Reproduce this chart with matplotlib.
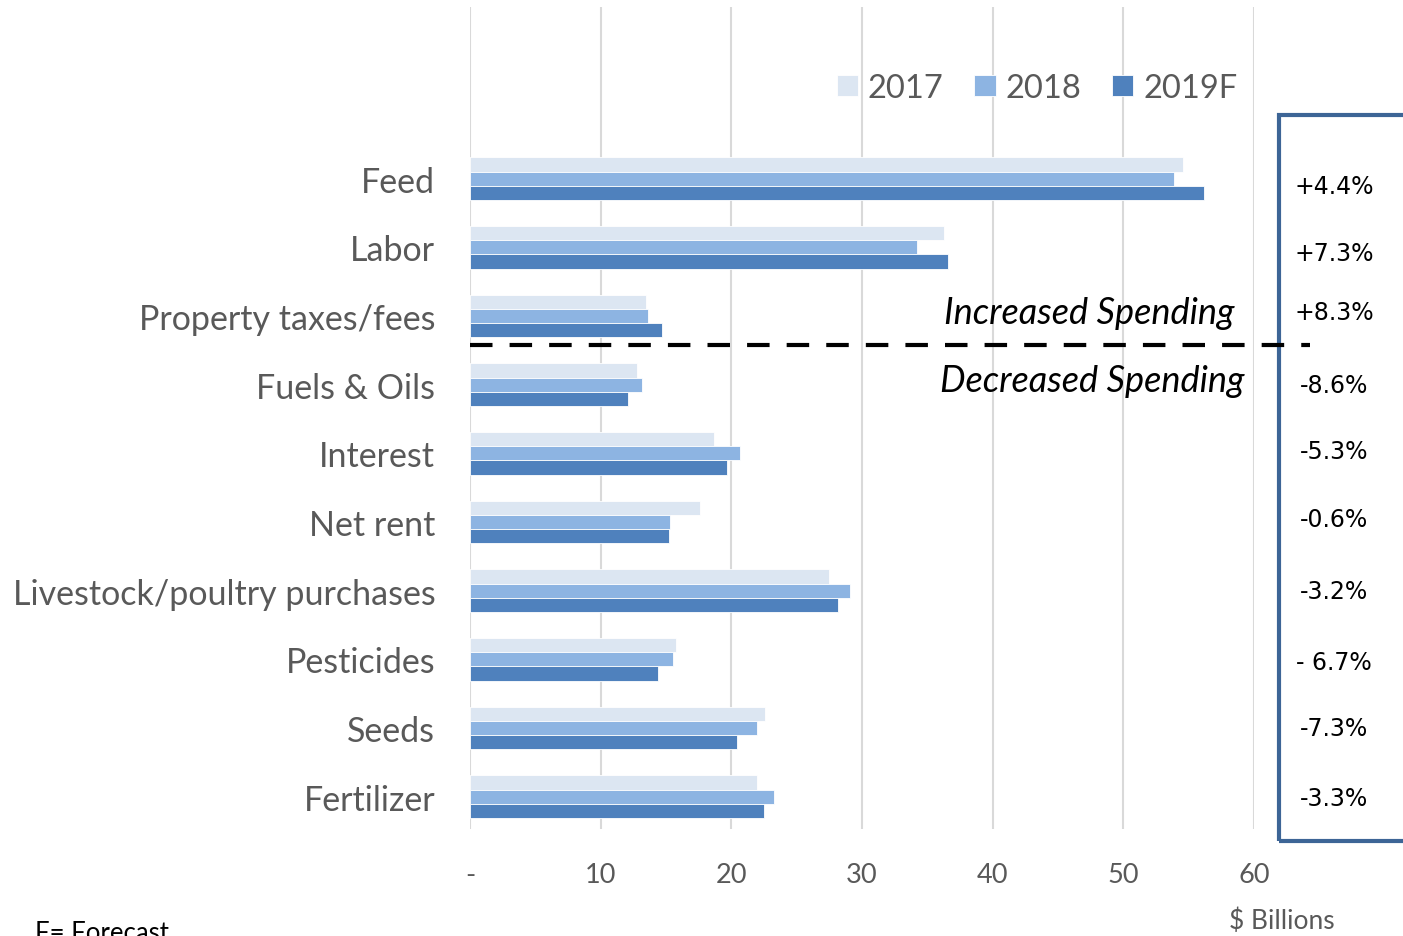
import numpy as np
import matplotlib.pyplot as plt
from matplotlib.patches import Rectangle
from matplotlib.lines import Line2D

# Farm production expenses, $ billions
categories = ["Feed", "Labor", "Property taxes/fees", "Fuels & Oils", "Interest",
              "Net rent", "Livestock/poultry purchases", "Pesticides", "Seeds", "Fertilizer"]
y2017 = [54.6, 36.3, 13.5, 12.8, 18.7, 17.6, 27.5, 15.8, 22.6, 22.0]
y2018 = [53.9, 34.2, 13.6, 13.2, 20.7, 15.3, 29.1, 15.5, 22.0, 23.3]
y2019 = [56.2, 36.6, 14.7, 12.1, 19.7, 15.2, 28.2, 14.4, 20.4, 22.5]
pct_change = ["+4.4%", "+7.3%", "+8.3%", "-8.6%", "-5.3%",
              "-0.6%", "-3.2%", "- 6.7%", "-7.3%", "-3.3%"]
series_names = ["2017", "2018", "2019F"]
colors = ["#dce6f2", "#8db4e2", "#4f81bd"]
xticks = [0, 10, 20, 30, 40, 50, 60]
xticklabels = ["-", "10", "20", "30", "40", "50", "60"]

W, H = 1403, 937
fig = plt.figure(figsize=(W / 100, H / 100), dpi=100)
ax = fig.add_axes([470 / W, 1 - 830 / H, (1254 - 470) / W, (830 - 8) / H])

y = np.arange(len(categories))
h = 0.207
for i, (vals, c, name) in enumerate(zip([y2017, y2018, y2019], colors, series_names)):
    ax.barh(y + (i - 1) * h, vals, height=h, color=c, edgecolor="white",
            linewidth=0.6, label=name, zorder=3)

ax.set_xlim(0, 60)
ax.set_ylim(len(categories) - 1 + 0.47, -2.5)
ax.set_xticks(xticks)
ax.set_xticklabels(xticklabels, fontsize=19.5, color="#595959", family="Lato")
ax.set_yticks(y)
ax.set_yticklabels(categories, fontsize=24.5, color="#595959", family="Lato")
ax.tick_params(length=0, pad=25, axis="y")
ax.tick_params(length=0, pad=24, axis="x")
ax.grid(axis="x", color="#d9d9d9", linewidth=1.5, zorder=0)
for s in ax.spines.values():
    s.set_visible(False)

ax.legend(loc="center", bbox_to_anchor=(1037 / W, 1 - 89 / H), bbox_transform=fig.transFigure,
          ncol=3, frameon=False, prop={"family": "Lato", "size": 23.5},
          handlelength=0.65, handleheight=0.65, handletextpad=0.3, columnspacing=0.95,
          labelcolor="#595959")

# divider between increased and decreased spending
fig.add_artist(Line2D([470 / W, 1310 / W], [1 - 346 / H, 1 - 346 / H], color="black",
                      linewidth=3, linestyle=(0, (5.4, 4.1))))
fig.text(1234 / W, 1 - 314 / H, "Increased Spending", ha="right", va="center",
         fontsize=26, style="italic", family="Lato")
fig.text(1244 / W, 1 - 381 / H, "Decreased Spending", ha="right", va="center",
         fontsize=26, style="italic", family="Lato")

# percent change box
fig.add_artist(Rectangle((1279 / W, 1 - 842 / H), (1410 - 1279) / W, (842 - 116) / H,
                         fill=False, edgecolor="#3d6596", linewidth=3))
pct_y = [187, 254, 313, 386, 452, 520, 592, 663, 729, 799]
for label, py in zip(pct_change, pct_y):
    fig.text(1334 / W, 1 - py / H, label, ha="center", va="center", fontsize=17,
             family="DejaVu Sans", color="black")

fig.text(1282 / W, 1 - 921 / H, "$ Billions", ha="center", va="center", fontsize=19,
         color="#595959", family="Lato")
fig.text(35 / W, 1 - 934 / H, "F= Forecast", ha="left", va="center", fontsize=18.5,
         color="black", family="Lato")

fig.savefig("out.png", dpi=100)
